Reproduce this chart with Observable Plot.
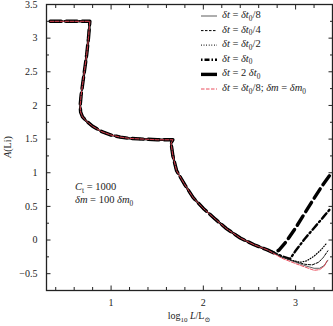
<!DOCTYPE html>
<html>
<head>
<meta charset="utf-8">
<script src="https://cdn.jsdelivr.net/npm/d3@7"></script>
<script src="https://cdn.jsdelivr.net/npm/@observablehq/plot@0.6"></script>
<style>
  html, body { margin: 0; padding: 0; background: #fff; }
  #chart { position: relative; width: 333px; height: 326px; }
  svg { font-family: "Liberation Serif", "DejaVu Serif", serif; }
</style>
</head>
<body>
<div id="chart"></div>
<script>
// Shared track (all runs coincide here)
const commonX = [0.34, 0.77, 0.755, 0.735, 0.71, 0.69, 0.675, 0.665, 0.67, 0.69, 0.73, 0.80, 0.90, 1.00, 1.10, 1.20, 1.35, 1.50, 1.67, 1.65, 1.67, 1.71, 1.80, 1.89, 2.00, 2.13, 2.25, 2.40, 2.55, 2.70];
const commonY = [3.25, 3.25, 3.00, 2.75, 2.50, 2.30, 2.15, 2.00, 1.90, 1.83, 1.77, 1.69, 1.61, 1.56, 1.53, 1.51, 1.50, 1.49, 1.49, 1.44, 1.25, 1.03, 0.82, 0.63, 0.47, 0.31, 0.17, 0.03, -0.07, -0.15];

// Tails where the runs diverge
const tailEighthX  = [2.85, 3.00, 3.10, 3.20, 3.26, 3.31, 3.35];
const tailEighthY  = [-0.25, -0.33, -0.38, -0.42, -0.42, -0.38, -0.30];
const tailQuarterX = [2.85, 3.00, 3.10, 3.18, 3.25, 3.30, 3.35];
const tailQuarterY = [-0.25, -0.32, -0.36, -0.37, -0.33, -0.26, -0.16];
const tailHalfX    = [2.85, 2.95, 3.05, 3.12, 3.20, 3.28, 3.34];
const tailHalfY    = [-0.25, -0.30, -0.33, -0.31, -0.24, -0.14, -0.04];
const tailOneX     = [2.85, 2.94, 3.00, 3.10, 3.20, 3.30, 3.38];
const tailOneY     = [-0.24, -0.28, -0.16, 0.02, 0.18, 0.34, 0.47];
const tailTwoX     = [2.76, 2.82, 2.90, 3.00, 3.10, 3.20, 3.30, 3.38];
const tailTwoY     = [-0.19, -0.15, -0.02, 0.18, 0.40, 0.62, 0.83, 0.98];
const tailRedX     = [2.85, 3.00, 3.10, 3.20, 3.26, 3.31, 3.34];
const tailRedY     = [-0.27, -0.35, -0.40, -0.45, -0.44, -0.39, -0.31];

const seriesNames = ["δt = δt0/8", "δt = δt0/4", "δt = δt0/2", "δt = δt0", "δt = 2 δt0", "δt = δt0/8; δm = δm0"];

const xMajor = [1, 2, 3];
const xMinor = [0.4, 0.6, 0.8, 1.2, 1.4, 1.6, 1.8, 2.2, 2.4, 2.6, 2.8, 3.2];
const yMajor = [-0.5, 0, 0.5, 1, 1.5, 2, 2.5, 3, 3.5];
const yMinor = [-0.75, -0.25, 0.25, 0.75, 1.25, 1.75, 2.25, 2.75, 3.25];

function build(tx, ty) {
  const xs = commonX.concat(tx), ys = commonY.concat(ty);
  return xs.map((x, i) => ({x, y: ys[i]}));
}
const dEighth = build(tailEighthX, tailEighthY);
const dQuarter = build(tailQuarterX, tailQuarterY);
const dHalf = build(tailHalfX, tailHalfY);
const dOne = build(tailOneX, tailOneY);
const dTwo = build(tailTwoX, tailTwoY);
const dRed = build(tailRedX, tailRedY);

const styles = [
  {stroke: "#333", strokeWidth: 0.8, strokeDasharray: null},
  {stroke: "#000", strokeWidth: 1, strokeDasharray: "2.5,1.5"},
  {stroke: "#000", strokeWidth: 1.2, strokeDasharray: "0.8,1.8"},
  {stroke: "#000", strokeWidth: 2.4, strokeDasharray: "7,3,1.5,3"},
  {stroke: "#000", strokeWidth: 3.4, strokeDasharray: "11,5"},
  {stroke: "#e8394a", strokeWidth: 0.9, strokeDasharray: "3.5,1.5"}
];
const datasets = [dEighth, dQuarter, dHalf, dOne, dTwo, dRed];
const order = [4, 3, 2, 1, 0, 5];

const W = 333, H = 326;
const mL = 46, mR = 1, mT = 4, mB = 36;

const plot = Plot.plot({
  width: W,
  height: H,
  marginLeft: mL, marginRight: mR, marginTop: mT, marginBottom: mB,
  style: {fontFamily: "'Liberation Serif', 'DejaVu Serif', serif", fontSize: "10px", color: "#222", background: "#fff"},
  x: {domain: [0.3, 3.4]},
  y: {domain: [-0.75, 3.5]},
  marks: [
    ...order.map(i => Plot.line(datasets[i], {x: "x", y: "y", stroke: styles[i].stroke, strokeWidth: styles[i].strokeWidth, strokeDasharray: styles[i].strokeDasharray, strokeLinejoin: "round"})),
    Plot.axisX(xMajor, {anchor: "bottom", tickSize: 0, tickPadding: 8, tickFormat: d => String(d), fontSize: 10, label: null}),
    Plot.axisY(yMajor, {anchor: "left", tickSize: 0, tickPadding: 9, tickFormat: d => (d < 0 ? "−" : "") + Math.abs(d), fontSize: 10, label: null}),
    Plot.axisX(xMajor, {anchor: "bottom", tickSize: -4.5, tickFormat: () => "", label: null, strokeWidth: 1}),
    Plot.axisX(xMinor, {anchor: "bottom", tickSize: -3, tickFormat: () => "", label: null, strokeWidth: 1}),
    Plot.axisX(xMajor, {anchor: "top", tickSize: -4.5, tickFormat: () => "", label: null, strokeWidth: 1}),
    Plot.axisX(xMinor, {anchor: "top", tickSize: -3, tickFormat: () => "", label: null, strokeWidth: 1}),
    Plot.axisY(yMajor, {anchor: "left", tickSize: -4.5, tickFormat: () => "", label: null, strokeWidth: 1}),
    Plot.axisY(yMinor, {anchor: "left", tickSize: -3, tickFormat: () => "", label: null, strokeWidth: 1}),
    Plot.axisY(yMajor, {anchor: "right", tickSize: -4.5, tickFormat: () => "", label: null, strokeWidth: 1}),
    Plot.axisY(yMinor, {anchor: "right", tickSize: -3, tickFormat: () => "", label: null, strokeWidth: 1}),
    Plot.frame({stroke: "#222", strokeWidth: 1.3})
  ]
});

document.getElementById("chart").appendChild(plot);

const svg = d3.select(plot);
const serif = "'Liberation Serif', 'DejaVu Serif', serif";

function mathText(g, x, y, parts, size, anchor) {
  const t = g.append("text").attr("x", x).attr("y", y)
    .attr("font-family", serif).attr("font-size", size).attr("fill", "#222")
    .attr("text-anchor", anchor || "start")
    .attr("dominant-baseline", "middle");
  let inSub = false;
  parts.forEach(p => {
    const ts = t.append("tspan").text(p.t);
    if (p.it) ts.attr("font-style", "italic");
    if (p.sub && !inSub) { ts.attr("font-size", size * 0.7).attr("dy", size * 0.25); inSub = true; }
    else if (!p.sub && inSub) { ts.attr("dy", -size * 0.25); inSub = false; }
  });
  return t;
}

// x label
mathText(svg, (mL + W - mR) / 2, 317, [
  {t: "log"}, {t: "10", sub: true}, {t: " "}, {t: "L", it: true}, {t: "/L"}, {t: "⊙", sub: true}
], 10, "middle");

// y label
const yl = svg.append("text")
  .attr("transform", `translate(9,${(mT + H - mB) / 2}) rotate(-90)`)
  .attr("text-anchor", "middle").attr("dominant-baseline", "middle")
  .attr("font-family", serif).attr("font-size", 10).attr("fill", "#222");
yl.append("tspan").attr("font-style", "italic").text("A");
yl.append("tspan").text("(Li)");

// annotation
mathText(svg, 75, 188, [{t: "C", it: true}, {t: "t", sub: true}, {t: " = 1000"}], 10.5);
mathText(svg, 75, 201, [{t: "δm", it: true}, {t: " = 100 "}, {t: "δm", it: true}, {t: "0", sub: true}], 10.5);

// legend
const legendParts = [
  [{t: "δt", it: true}, {t: " = "}, {t: "δt", it: true}, {t: "0", sub: true}, {t: "/8"}],
  [{t: "δt", it: true}, {t: " = "}, {t: "δt", it: true}, {t: "0", sub: true}, {t: "/4"}],
  [{t: "δt", it: true}, {t: " = "}, {t: "δt", it: true}, {t: "0", sub: true}, {t: "/2"}],
  [{t: "δt", it: true}, {t: " = "}, {t: "δt", it: true}, {t: "0", sub: true}],
  [{t: "δt", it: true}, {t: " = 2 "}, {t: "δt", it: true}, {t: "0", sub: true}],
  [{t: "δt", it: true}, {t: " = "}, {t: "δt", it: true}, {t: "0", sub: true}, {t: "/8; "}, {t: "δm", it: true}, {t: " = "}, {t: "δm", it: true}, {t: "0", sub: true}]
];
const lg = svg.append("g").attr("aria-label", "legend");
legendParts.forEach((parts, i) => {
  const y = 16 + i * 14.6;
  const s = styles[i];
  lg.append("line").attr("x1", 201).attr("x2", 217).attr("y1", y).attr("y2", y)
    .attr("stroke", s.stroke).attr("stroke-width", s.strokeWidth)
    .attr("stroke-dasharray", i === 4 ? null : (i === 3 ? "1.5,2,5,2" : s.strokeDasharray));
  mathText(lg, 222, y, parts, 10.5).append("title").text(seriesNames[i]);
});
</script>
</body>
</html>
